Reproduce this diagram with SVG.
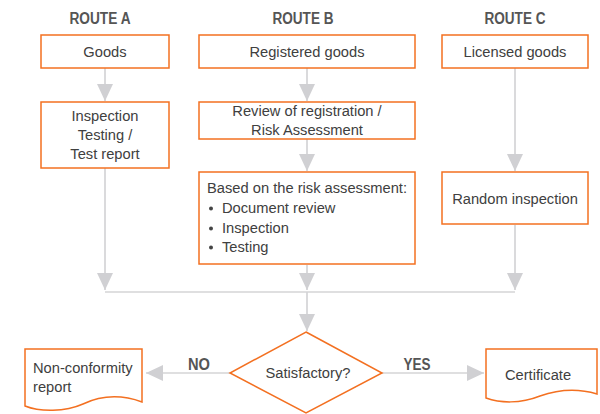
<svg xmlns="http://www.w3.org/2000/svg" width="600" height="414" viewBox="0 0 600 414">
<defs>
<style>
.box{fill:#fff;stroke:#f37021;stroke-width:1.5}
.t{font-family:"Liberation Sans",Arial,sans-serif;font-size:14.7px;fill:#404040}
.c{text-anchor:middle}
.h{font-family:"Liberation Sans Narrow","Liberation Sans",Arial,sans-serif;font-size:16px;font-weight:bold;fill:#555;text-anchor:middle}
.ln{fill:none;stroke:#d4d4d6;stroke-width:1.7}
.bul{fill:#444}
</style>
<marker id="ah" viewBox="0 0 17 16" refX="17" refY="8" markerWidth="17" markerHeight="16" markerUnits="userSpaceOnUse" orient="auto">
<path d="M0 0 L17 8 L0 16 Z" fill="#d0d0d3"/>
</marker>
</defs>
<rect width="600" height="414" fill="#fff"/>
<g id="headers">
<text class="h" x="100" y="24" textLength="61" lengthAdjust="spacingAndGlyphs">ROUTE A</text>
<text class="h" x="303" y="24" textLength="61" lengthAdjust="spacingAndGlyphs">ROUTE B</text>
<text class="h" x="515" y="24" textLength="61" lengthAdjust="spacingAndGlyphs">ROUTE C</text>
</g>
<g id="connectors">
<path class="ln" d="M105 68 V101" marker-end="url(#ah)"/>
<path class="ln" d="M307 68 V101" marker-end="url(#ah)"/>
<path class="ln" d="M307 139 V171" marker-end="url(#ah)"/>
<path class="ln" d="M515 68 V171" marker-end="url(#ah)"/>
<path class="ln" d="M105 168 V290" marker-end="url(#ah)"/>
<path class="ln" d="M307 265 V290" marker-end="url(#ah)"/>
<path class="ln" d="M515 225 V290" marker-end="url(#ah)"/>
<path class="ln" d="M105 292 H515"/>
<path class="ln" d="M307 292 V331" marker-end="url(#ah)"/>
<path class="ln" d="M230 373 H146" marker-end="url(#ah)"/>
<path class="ln" d="M382 373 H484" marker-end="url(#ah)"/>
<text class="h" x="199" y="370" textLength="22" lengthAdjust="spacingAndGlyphs">NO</text>
<text class="h" x="417" y="370" textLength="27" lengthAdjust="spacingAndGlyphs">YES</text>
</g>
<g id="goods">
<rect class="box" x="41" y="35" width="128" height="33"/>
<text class="t c" x="105" y="57">Goods</text>
</g>
<g id="inspection">
<rect class="box" x="41" y="102" width="128" height="66"/>
<text class="t c" x="105" y="121">Inspection</text>
<text class="t c" x="105" y="140">Testing /</text>
<text class="t c" x="105" y="159">Test report</text>
</g>
<g id="registered">
<rect class="box" x="199" y="35" width="216" height="33"/>
<text class="t c" x="307" y="57">Registered goods</text>
</g>
<g id="review">
<rect class="box" x="199" y="102" width="216" height="37"/>
<text class="t c" x="307" y="116">Review of registration /</text>
<text class="t c" x="307" y="135">Risk Assessment</text>
</g>
<g id="based">
<rect class="box" x="199" y="172" width="216" height="92"/>
<text class="t" x="207" y="193">Based on the risk assessment:</text>
<circle class="bul" cx="211" cy="208.5" r="2"/>
<text class="t" x="222" y="213">Document review</text>
<circle class="bul" cx="211" cy="228.5" r="2"/>
<text class="t" x="222" y="233">Inspection</text>
<circle class="bul" cx="211" cy="247.5" r="2"/>
<text class="t" x="222" y="252">Testing</text>
</g>
<g id="licensed">
<rect class="box" x="442" y="35" width="146" height="33"/>
<text class="t c" x="515" y="57">Licensed goods</text>
</g>
<g id="random">
<rect class="box" x="442" y="172" width="146" height="52"/>
<text class="t c" x="515" y="204">Random inspection</text>
</g>
<g id="decision">
<path class="box" d="M306 332 L382 373 L306 413 L230 373 Z"/>
<text class="t c" x="308" y="378">Satisfactory?</text>
</g>
<g id="nonconformity">
<path class="box" d="M25 349 H142 V402 C120 394 100 396 83 404 C65 412 40 412 25 406 Z"/>
<text class="t" x="33" y="373">Non-conformity</text>
<text class="t" x="33" y="392">report</text>
</g>
<g id="certificate">
<path class="box" d="M486 349 H597 V394 C580 389 560 389 540 396 C520 404 500 403 486 398 Z"/>
<text class="t c" x="538" y="380">Certificate</text>
</g>
</svg>
